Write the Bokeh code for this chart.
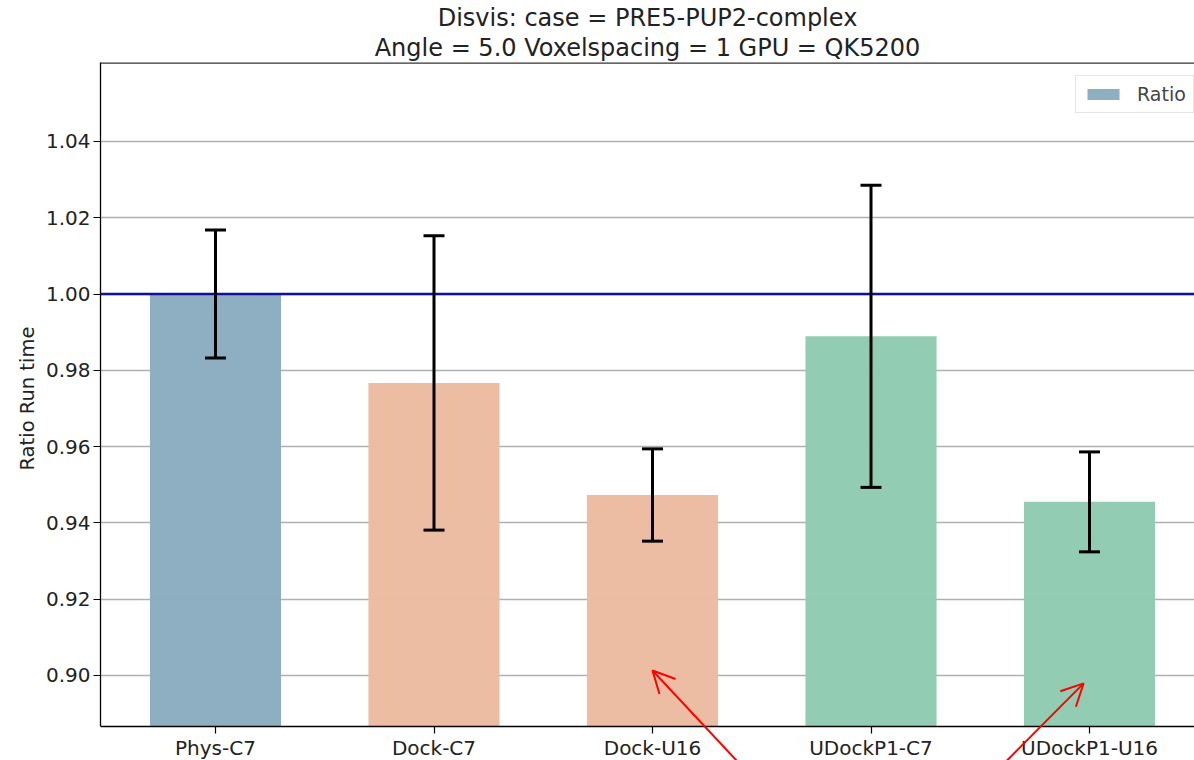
from bokeh.plotting import figure
from bokeh.models import (Range1d, FixedTicker, ColumnDataSource, Whisker, TeeHead,
                          Span, Arrow, OpenHead, Title, Legend, LegendItem)
from bokeh.embed import file_html
from bokeh.resources import INLINE

# ---- data ----
categories = ["Phys-C7", "Dock-C7", "Dock-U16", "UDockP1-C7", "UDockP1-U16"]
ratios = [1.000, 0.9767, 0.9473, 0.9889, 0.9455]
errors = [0.0168, 0.0386, 0.0121, 0.0396, 0.0131]
colors = ["#8aabbf", "#ebbba0", "#ebbba0", "#8ecbb1", "#8ecbb1"]
y_ticks = [0.90, 0.92, 0.94, 0.96, 0.98, 1.00, 1.02, 1.04]
reference_level = 1.0
# red annotation arrows (tail -> tip), in data units
arrow_tail_x = [2.412, 3.593]
arrow_tail_y = [0.8760, 0.8760]
arrow_tip_x = [2.0, 3.973]
arrow_tip_y = [0.9013, 0.8979]

FONT = "DejaVu Sans"
X0, X1 = -0.5263, 4.4805
AXIS_FLOOR, Y1 = 0.8866, 1.0607     # visible axis limits
Y0 = 0.87769                        # frame continues below the x axis (for the arrows)
W, H = 1194, 760

xs = list(range(len(categories)))
src = ColumnDataSource(dict(
    x=xs, top=ratios, color=colors,
    upper=[r + e for r, e in zip(ratios, errors)],
    lower=[r - e for r, e in zip(ratios, errors)],
))

p = figure(width=W, height=H, output_backend="svg", toolbar_location=None,
           x_range=Range1d(X0, X1), y_range=Range1d(Y0, Y1),
           min_border_left=100, min_border_right=0, min_border_top=62,
           min_border_bottom=0)

p.add_layout(Title(text="Angle = 5.0 Voxelspacing = 1 GPU = QK5200", align="center",
                   text_font=FONT, text_font_size="24px", text_font_style="normal",
                   text_color="#222222", standoff=1), "above")
p.add_layout(Title(text="Disvis: case = PRE5-PUP2-complex", align="center",
                   text_font=FONT, text_font_size="24px", text_font_style="normal",
                   text_color="#222222", standoff=0), "above")

bars = p.vbar(x="x", top="top", bottom=AXIS_FLOOR, width=0.6, source=src,
              fill_color="color", fill_alpha=0.97, line_color=None)

p.add_layout(Span(location=reference_level, dimension="width",
                  line_color="#10109a", line_width=2.4))
# top spine
p.add_layout(Span(location=Y1, dimension="width", line_color="#333333", line_width=2.6))

p.add_layout(Whisker(source=src, base="x", upper="upper", lower="lower",
                     line_color="black", line_width=3, level="annotation",
                     upper_head=TeeHead(size=21, line_color="black", line_width=3),
                     lower_head=TeeHead(size=21, line_color="black", line_width=3)))

for tx, ty, hx, hy in zip(arrow_tail_x, arrow_tail_y, arrow_tip_x, arrow_tip_y):
    p.add_layout(Arrow(x_start=tx, y_start=ty, x_end=hx, y_end=hy,
                       line_color="red", line_width=2, level="overlay",
                       end=OpenHead(size=22, line_color="red", line_width=2)))

legend = Legend(items=[LegendItem(label="Ratio", renderers=[bars], index=0)],
                location=(975, 647), glyph_width=40, glyph_height=14,
                label_standoff=14, label_text_font=FONT, label_text_font_size="19px",
                label_height=14, padding=7, spacing=0, margin=0,
                border_line_color="#cccccc", border_line_width=1,
                background_fill_alpha=0.85)
p.add_layout(legend)

# axes
p.xaxis.fixed_location = AXIS_FLOOR
p.xaxis.ticker = FixedTicker(ticks=xs)
p.xaxis.major_label_overrides = {i: c for i, c in enumerate(categories)}
p.yaxis.ticker = FixedTicker(ticks=y_ticks)
p.yaxis.bounds = (AXIS_FLOOR, Y1)
p.yaxis.major_label_overrides = {t: f"{t:.2f}" for t in y_ticks}
for ax in (p.xaxis[0], p.yaxis[0]):
    ax.axis_line_color = "black"
    ax.axis_line_width = 1.3
    ax.major_tick_line_color = "black"
    ax.major_tick_line_width = 1.2
    ax.major_tick_out = 7
    ax.major_tick_in = 0
    ax.minor_tick_line_color = None
    ax.major_label_text_font = FONT
    ax.major_label_text_font_size = "20px"
    ax.major_label_text_color = "#222222"
p.xaxis.major_label_standoff = 2
p.yaxis.major_label_standoff = 3

# y-axis label, centred on the visible part of the axis (not on the extended frame)
p.add_layout(Title(text="Ratio Run time", align="left", offset=290,
                   text_font=FONT, text_font_size="19.5px", text_font_style="normal",
                   text_color="#222222", standoff=8), "left")

p.xgrid.grid_line_color = None
p.ygrid.ticker = FixedTicker(ticks=y_ticks)
p.ygrid.grid_line_color = "#b0b0b0"
p.ygrid.grid_line_width = 1.5

p.outline_line_color = None
p.background_fill_color = "white"
p.border_fill_color = "white"

open("out.html", "w").write(file_html(p, INLINE))
